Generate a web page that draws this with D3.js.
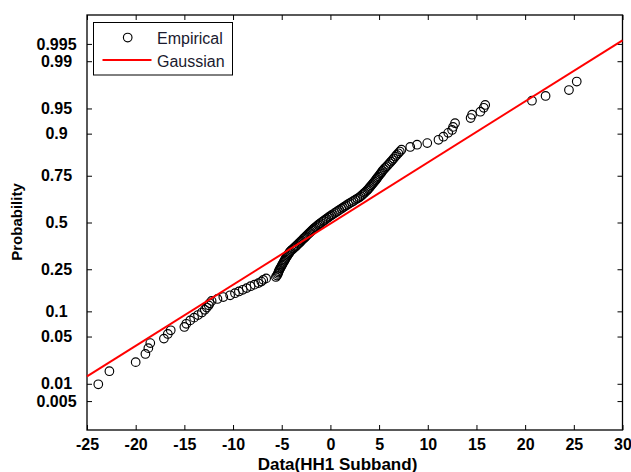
<!DOCTYPE html>
<html>
<head>
<meta charset="utf-8">
<script src="https://cdn.jsdelivr.net/npm/d3@7"></script>
<style>
  html, body { margin: 0; padding: 0; background: #fff; }
  svg { display: block; }
  text { font-family: "Liberation Sans", Arial, sans-serif; }
</style>
</head>
<body>
<svg id="chart" width="631" height="472"></svg>
<script>
// ---------------- DATA ----------------
const xTicks = [-25, -20, -15, -10, -5, 0, 5, 10, 15, 20, 25, 30];
const yTickProbs = [0.005, 0.01, 0.05, 0.1, 0.25, 0.5, 0.75, 0.9, 0.95, 0.99, 0.995];
const yTickLabels = ["0.005", "0.01", "0.05", "0.1", "0.25", "0.5", "0.75", "0.9", "0.95", "0.99", "0.995"];

// Empirical points (sorted sample value, plotted probability)
const empiricalX = [
  -23.84,-22.7,-20.0,-19.0,-18.7,-18.5,-17.1,-16.7,-16.4,-15.0,
  -14.8,-14.4,-14.0,-13.6,-13.2,-12.9,-12.7,-12.5,-12.4,-12.2,
  -11.6,-11.0,-10.3,-9.8,-9.4,-9.0,-8.6,-8.2,-7.8,-7.4,
  -7.1,-6.9,-6.6,
  -5.60,-5.49,-5.40,-5.35,-5.30,-5.24,-5.16,-5.08,-5.01,-4.94,
  -4.86,-4.79,-4.72,-4.65,-4.57,-4.50,-4.42,-4.34,-4.25,-4.17,
  -4.08,-3.95,-3.80,-3.67,-3.54,-3.43,-3.30,-3.18,-3.07,-2.96,
  -2.83,-2.72,-2.60,-2.49,-2.37,-2.26,-2.14,-2.03,-1.90,-1.79,
  -1.68,-1.56,-1.40,-1.27,-1.14,-1.00,-0.83,-0.69,-0.54,-0.39,
  -0.22,-0.07,0.09,0.25,0.44,0.60,0.77,0.93,1.12,1.29,
  1.45,1.62,1.82,2.00,2.19,2.37,2.58,2.77,2.95,3.11,
  3.26,3.38,3.51,3.63,3.78,3.89,3.99,4.09,4.21,4.31,
  4.42,4.52,4.64,4.73,4.83,4.93,5.05,5.16,5.26,5.36,
  5.50,5.64,5.78,5.92,6.08,6.22,6.36,6.50,6.66,6.80,
  6.97,7.13,7.30,
  8.2,8.9,9.95,11.1,11.6,12.1,12.5,12.6,12.8,14.4,
  14.55,15.4,15.75,15.9,20.7,22.1,24.5,25.3
];
const empiricalP = [
  0.0098,0.016,0.022,0.029,0.035,0.041,0.047,0.054,0.060,0.066,
  0.072,0.079,0.085,0.091,0.097,0.104,0.110,0.116,0.122,0.129,
  0.135,0.141,0.147,0.154,0.160,0.166,0.172,0.179,0.185,0.191,
  0.197,0.204,0.210,
  0.216,0.222,0.229,0.235,0.241,0.247,0.254,0.260,0.266,0.272,
  0.279,0.285,0.291,0.297,0.304,0.310,0.316,0.322,0.329,0.335,
  0.341,0.347,0.354,0.360,0.366,0.372,0.379,0.385,0.391,0.397,
  0.404,0.410,0.416,0.422,0.429,0.435,0.441,0.447,0.454,0.460,
  0.466,0.472,0.479,0.485,0.491,0.497,0.504,0.510,0.516,0.522,
  0.529,0.535,0.541,0.547,0.554,0.560,0.566,0.572,0.579,0.585,
  0.591,0.597,0.604,0.610,0.616,0.622,0.629,0.635,0.641,0.647,
  0.654,0.660,0.666,0.672,0.679,0.685,0.691,0.697,0.704,0.710,
  0.716,0.722,0.729,0.735,0.741,0.747,0.754,0.760,0.766,0.772,
  0.779,0.785,0.791,0.797,0.804,0.810,0.816,0.822,0.829,0.835,
  0.841,0.847,0.853,
  0.862,0.869,0.874,0.8835,0.892,0.902,0.909,0.916,0.924,0.934,
  0.940,0.945,0.951,0.955,0.9605,0.966,0.972,0.979
];

// Fitted Gaussian reference line (end points)
const gaussianX = [-25, 30];
const gaussianP = [0.0132, 0.9957];

const legendLabels = ["Empirical", "Gaussian"];

// ---------------- HELPERS ----------------
// inverse standard normal CDF (probit) — used for the probability axis
function probit(p) {
  const a = [-3.969683028665376e+01, 2.209460984245205e+02, -2.759285104469687e+02,
             1.383577518672690e+02, -3.066479806614716e+01, 2.506628277459239e+00];
  const b = [-5.447609879822406e+01, 1.615858368580409e+02, -1.556989798598866e+02,
             6.680131188771972e+01, -1.328068155288572e+01];
  const c = [-7.784894002430293e-03, -3.223964580411365e-01, -2.400758277161838e+00,
             -2.549671010228077e+00, 4.374642516345403e+00, 2.938163982698783e+00];
  const d = [7.784695709041462e-03, 3.224671290700398e-01, 2.445134137142996e+00,
             3.754408661907416e+00];
  const plow = 0.02425, phigh = 1 - plow;
  let q, r;
  if (p < plow) {
    q = Math.sqrt(-2 * Math.log(p));
    return (((((c[0]*q+c[1])*q+c[2])*q+c[3])*q+c[4])*q+c[5]) /
           ((((d[0]*q+d[1])*q+d[2])*q+d[3])*q+1);
  } else if (p <= phigh) {
    q = p - 0.5; r = q*q;
    return (((((a[0]*r+a[1])*r+a[2])*r+a[3])*r+a[4])*r+a[5])*q /
           (((((b[0]*r+b[1])*r+b[2])*r+b[3])*r+b[4])*r+1);
  } else {
    q = Math.sqrt(-2 * Math.log(1 - p));
    return -(((((c[0]*q+c[1])*q+c[2])*q+c[3])*q+c[4])*q+c[5]) /
            ((((d[0]*q+d[1])*q+d[2])*q+d[3])*q+1);
  }
}

// ---------------- LAYOUT ----------------
const svg = d3.select("#chart");
const plotL = 87, plotR = 622.5, plotT = 15, plotB = 430;

const x = d3.scaleLinear().domain([-25, 30]).range([plotL, plotR]);
const yz = d3.scaleLinear().domain([-3.0, 3.0]).range([plotB + 0.5, plotT - 0.5]);
const y = p => yz(probit(p));

// axes (ticks pointing inward)
const yTickZ = yTickProbs.map(probit);

const gx = svg.append("g").attr("transform", `translate(0,${plotB})`)
  .call(d3.axisBottom(x).tickValues(xTicks).tickSizeInner(-5).tickSizeOuter(0).tickPadding(9)
        .tickFormat(d => String(d)));
gx.select(".domain").remove();
gx.selectAll("text").attr("font-size", 16).attr("font-weight", "bold")
  .attr("font-family", "'Liberation Sans', Arial, sans-serif").attr("fill", "#000");
gx.selectAll("line").attr("stroke", "#000");

const gxt = svg.append("g").attr("transform", `translate(0,${plotT})`)
  .call(d3.axisTop(x).tickValues(xTicks).tickSizeInner(-5).tickSizeOuter(0).tickFormat(""));
gxt.select(".domain").remove();
gxt.selectAll("line").attr("stroke", "#000");

const gy = svg.append("g").attr("transform", `translate(${plotL},0)`)
  .call(d3.axisLeft(yz).tickValues(yTickZ).tickSizeInner(-5).tickSizeOuter(0)
        .tickFormat((d, i) => yTickLabels[i]));
gy.select(".domain").remove();
gy.selectAll("line").attr("stroke", "#000");
gy.selectAll("text").attr("font-size", 16).attr("font-weight", "bold")
  .attr("font-family", "'Liberation Sans', Arial, sans-serif").attr("fill", "#000")
  .attr("text-anchor", "middle").attr("x", -30.5);

const gyr = svg.append("g").attr("transform", `translate(${plotR},0)`)
  .call(d3.axisRight(yz).tickValues(yTickZ).tickSizeInner(-5).tickSizeOuter(0).tickFormat(""));
gyr.select(".domain").remove();
gyr.selectAll("line").attr("stroke", "#000");

// frame
svg.append("rect").attr("x", plotL).attr("y", plotT)
  .attr("width", plotR - plotL).attr("height", plotB - plotT)
  .attr("fill", "none").attr("stroke", "#000").attr("stroke-width", 1.3);

// empirical points
const n = Math.min(empiricalX.length, empiricalP.length);
const pts = d3.range(n).map(i => ({x: empiricalX[i], p: empiricalP[i]}));
svg.append("g").selectAll("circle").data(pts).join("circle")
  .attr("cx", d => x(d.x)).attr("cy", d => y(d.p)).attr("r", 4.3)
  .attr("fill", "none").attr("stroke", "#000").attr("stroke-width", 1.15);

// gaussian line
const linePts = gaussianX.map((v, i) => ({x: v, p: gaussianP[i]}));
svg.append("path").datum(linePts)
  .attr("d", d3.line().x(d => x(d.x)).y(d => y(d.p)))
  .attr("fill", "none").attr("stroke", "#ff0000").attr("stroke-width", 2);

// axis titles
svg.append("text").attr("x", 337.5).attr("y", 469.5).attr("text-anchor", "middle")
  .attr("font-size", 17).attr("font-weight", "bold").attr("fill", "#000")
  .text("Data(HH1 Subband)");
svg.append("text").attr("transform", "translate(22,222) rotate(-90)").attr("text-anchor", "middle")
  .attr("font-size", 15).attr("font-weight", "bold").attr("fill", "#000")
  .text("Probability");

// legend
const lg = svg.append("g");
lg.append("rect").attr("x", 93.5).attr("y", 22.5).attr("width", 139).attr("height", 52.5)
  .attr("fill", "#fff").attr("stroke", "#000").attr("stroke-width", 1);
lg.append("circle").attr("cx", 127.7).attr("cy", 37.5).attr("r", 4.3)
  .attr("fill", "none").attr("stroke", "#000").attr("stroke-width", 1.15);
lg.append("line").attr("x1", 102.5).attr("x2", 151.5).attr("y1", 60).attr("y2", 60)
  .attr("stroke", "#ff0000").attr("stroke-width", 2);
lg.selectAll("text.lab").data(legendLabels).join("text").attr("class", "lab")
  .attr("x", 157).attr("y", (d, i) => 43.5 + i * 23)
  .attr("font-size", 16).attr("fill", "#1a1a2e").text(d => d);
</script>
</body>
</html>
